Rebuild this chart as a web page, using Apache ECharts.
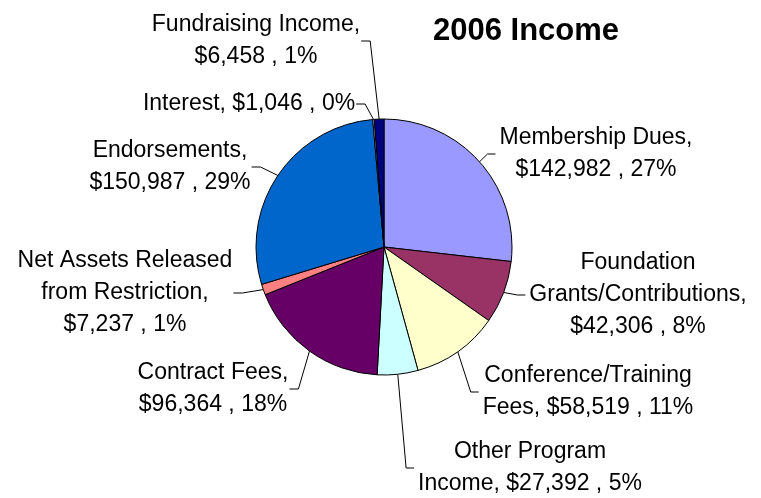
<!DOCTYPE html>
<html>
<head>
<meta charset="utf-8">
<script src="https://cdn.jsdelivr.net/npm/echarts@6/dist/echarts.min.js"></script>
<style>html,body{margin:0;padding:0;background:#fff;}#c{width:761px;height:498px;}</style>
</head>
<body>
<div id="c"></div>
<script>
const categories = ['Membership Dues', 'Foundation\nGrants/Contributions', 'Conference/Training\nFees', 'Other Program\nIncome', 'Contract Fees', 'Net Assets Released\nfrom Restriction', 'Endorsements', 'Interest', 'Fundraising Income'];
const values = [142982, 42306, 58519, 27392, 96364, 7237, 150987, 1046, 6458];
const percentLabels = ['27%', '8%', '11%', '5%', '18%', '1%', '29%', '0%', '1%'];
const colors = ['#9999FF', '#993366', '#FFFFCC', '#CCFFFF', '#660066', '#FF8080', '#0066CC', '#CCCCFF', '#000080'];
const breakAfterName = [true, true, false, false, true, true, true, false, true];
const labelCenters = [[596, 154], [638, 295], [588, 392], [530, 468], [213, 389], [125, 293], [170, 167], [249, 104], [256, 41]];

const pieCenter = [384, 247];
const chart = echarts.init(document.getElementById('c'), null, {renderer: 'canvas'});
const fmtMoney = v => '$' + v.toLocaleString('en-US');
chart.setOption({
  animation: false,
  title: {
    text: '2006 Income', left: 521, top: 11, textAlign: 'center',
    textStyle: {fontFamily: 'Liberation Sans', fontWeight: 'bold', fontSize: 31, color: '#000'}
  },
  series: [{
    type: 'pie',
    center: pieCenter,
    radius: 128,
    startAngle: 90,
    clockwise: true,
    avoidLabelOverlap: false,
    data: categories.map((n, i) => ({name: n, value: values[i], itemStyle: {color: colors[i]}})),
    itemStyle: {borderColor: '#000', borderWidth: 1},
    label: {
      show: true, position: 'outside', color: '#000',
      fontFamily: 'Liberation Sans', fontSize: 23, lineHeight: 32, align: 'center',
      formatter: p => p.name + ',' + (breakAfterName[p.dataIndex] ? '\n' : ' ') + fmtMoney(p.value) + ' , ' + percentLabels[p.dataIndex]
    },
    labelLine: {show: true, length: 10, length2: 10, lineStyle: {color: '#000', width: 1}},
    labelLayout: p => {
      const [cx, cy] = labelCenters[p.dataIndex];
      const w = p.labelRect.width;
      const left = cx < pieCenter[0];
      const edgeX = left ? cx + w / 2 + 1 : cx - w / 2 - 4;
      const elbowX = left ? edgeX + 9 : edgeX - 8;
      const anchor = p.labelLinePoints ? p.labelLinePoints[0] : [edgeX, cy];
      return {
        x: cx, y: cy, align: 'center', verticalAlign: 'middle',
        labelLinePoints: [anchor, [elbowX, cy], [edgeX, cy]]
      };
    },
    emphasis: {disabled: true}
  }]
});
</script>
</body>
</html>
